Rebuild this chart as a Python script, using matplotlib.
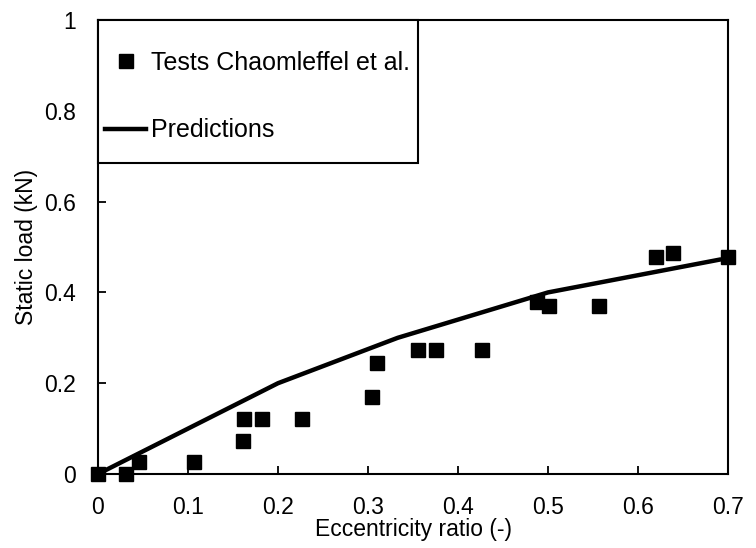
import matplotlib.pyplot as plt
from matplotlib.lines import Line2D
from matplotlib.patches import Rectangle

plt.rcParams['font.family'] = ['Liberation Sans', 'DejaVu Sans']

# measured points (Chaomleffel et al.)
ecc_tests = [0.0, 0.031, 0.046, 0.107, 0.161, 0.162, 0.182, 0.227, 0.304, 0.31,
             0.356, 0.376, 0.427, 0.488, 0.501, 0.557, 0.62, 0.639, 0.70]
load_tests = [0.0, 0.0, 0.026, 0.026, 0.073, 0.121, 0.121, 0.121, 0.17, 0.245,
              0.273, 0.273, 0.273, 0.379, 0.37, 0.37, 0.478, 0.487, 0.478]

# model curve
ecc_pred = [0.0, 0.1, 0.2, 0.333, 0.5, 0.69]
load_pred = [0.0, 0.1, 0.2, 0.3, 0.4, 0.472]

fig = plt.figure(figsize=(7.56, 5.48), dpi=100)
ax = fig.add_axes([0.1296, 0.135, 0.8334, 0.8285])

ax.plot(ecc_pred, load_pred, color='black', lw=3.2, zorder=2)
ax.plot(ecc_tests, load_tests, 's', color='black', ms=9.5, lw=0,
        zorder=3, clip_on=False)

ax.set_xlim(0, 0.7)
ax.set_ylim(0, 1)
ax.set_xticks([0, 0.1, 0.2, 0.3, 0.4, 0.5, 0.6, 0.7])
ax.set_xticklabels(['0', '0.1', '0.2', '0.3', '0.4', '0.5', '0.6', '0.7'])
ax.set_yticks([0, 0.2, 0.4, 0.6, 0.8, 1])
ax.set_yticklabels(['0', '0.2', '0.4', '0.6', '0.8', '1'])
ax.tick_params(direction='in', length=6, width=1.3, labelsize=16.5, pad=16,
               colors='black')
for s in ax.spines.values():
    s.set_linewidth(1.5)

ax.set_xlabel('Eccentricity ratio (-)', fontsize=16.5, labelpad=-1)
ax.set_ylabel('Static load (kN)', fontsize=16.5, labelpad=4)

# legend box drawn by hand, the entries inside it
ax.add_patch(Rectangle((0, 0.685), 0.508, 0.315, transform=ax.transAxes,
                       facecolor='white', edgecolor='black', lw=1.5,
                       zorder=4, clip_on=False))
handles = [Line2D([], [], marker='s', color='black', ls='none', ms=9.5),
           Line2D([], [], color='black', lw=3.2)]
leg = ax.legend(handles, ['Tests Chaomleffel et al.', 'Predictions'],
                loc='upper left', bbox_to_anchor=(0, 0.948), borderaxespad=0,
                fontsize=18, frameon=False, handlelength=1.65,
                handletextpad=0.2, labelspacing=1.75, borderpad=0.28)
leg.set_zorder(5)

fig.savefig('out.png', dpi=100)
